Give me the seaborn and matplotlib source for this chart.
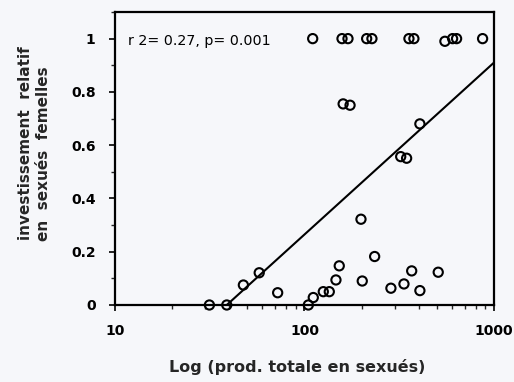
import numpy as np
import pandas as pd
import matplotlib
matplotlib.use("Agg")
import matplotlib.pyplot as plt
import matplotlib.ticker as mticker
import seaborn as sns

# Total sexual production (log axis) and relative investment in female sexuals
prod_totale = [110.5, 157.8, 169.7, 212.9, 227.0, 355.9, 378.0, 551.0, 605.0, 635.0, 871.0,
               160.0, 174.0,
               406.5,
               322.0, 346.0,
               198.7,
               31.5, 38.9, 47.6, 57.7, 72.2, 104.8, 111.3, 125.7, 135.2, 152.6, 146.6,
               201.8, 234.6, 285.9, 335.0, 368.0, 406.6, 508.0]
invest_femelles = [1.0, 1.0, 1.0, 1.0, 1.0, 1.0, 1.0, 0.99, 1.0, 1.0, 1.0,
                   0.755, 0.75,
                   0.68,
                   0.557, 0.551,
                   0.322,
                   0.0, 0.0, 0.075, 0.121, 0.046, 0.0, 0.028, 0.05, 0.05, 0.147, 0.094,
                   0.09, 0.182, 0.063, 0.079, 0.128, 0.054, 0.123]

# Fitted regression line endpoints
droite_x = [38.9, 1000.0]
droite_y = [0.0, 0.91]

stat_texte = "r 2= 0.27, p= 0.001"

df = pd.DataFrame({"prod": prod_totale, "invest": invest_femelles})
droite = pd.DataFrame({"prod": droite_x, "invest": droite_y})

sns.set_theme(style="ticks")
plt.rcParams["font.family"] = ["DejaVu Sans"]

fig = plt.figure(figsize=(5.14, 3.82), dpi=100)
fig.patch.set_facecolor("#f6f7fa")
ax = fig.add_axes([0.2237, 0.2016, 0.961 - 0.2237, 0.9686 - 0.2016])
ax.set_facecolor("#f6f7fa")

sns.lineplot(data=droite, x="prod", y="invest", ax=ax, color="black", linewidth=1.5)
sns.scatterplot(data=df, x="prod", y="invest", ax=ax, marker="o", s=44,
                facecolor="none", edgecolor="black", linewidth=1.5, clip_on=False,
                zorder=3)

ax.set_xscale("log")
ax.set_xlim(10, 1000)
ax.set_ylim(0, 1.1)

ax.xaxis.set_major_locator(mticker.FixedLocator([10, 100, 1000]))
ax.xaxis.set_major_formatter(mticker.FixedFormatter(["10", "100", "1000"]))
ax.xaxis.set_minor_locator(mticker.LogLocator(base=10, subs=np.arange(2, 10)))
ax.xaxis.set_minor_formatter(mticker.NullFormatter())

ax.yaxis.set_major_locator(mticker.FixedLocator([0, 0.2, 0.4, 0.6, 0.8, 1.0]))
ax.yaxis.set_major_formatter(mticker.FixedFormatter(["0", "0.2", "0.4", "0.6", "0.8", "1"]))
ax.yaxis.set_minor_locator(mticker.MultipleLocator(0.1))

ax.tick_params(axis="both", which="major", direction="out", length=4, width=1.2,
               labelsize=10, colors="black", pad=10)
ax.tick_params(axis="both", which="minor", direction="out", length=3, width=1.0)
for lab in ax.get_xticklabels() + ax.get_yticklabels():
    lab.set_fontweight("semibold")

for side in ["top", "right", "bottom", "left"]:
    ax.spines[side].set_visible(True)
    ax.spines[side].set_linewidth(1.6)
    ax.spines[side].set_color("black")

ax.set_xlabel("")
ax.set_ylabel("")

ax.text(0.035, 0.9, stat_texte, transform=ax.transAxes, fontsize=10.3,
        ha="left", va="center", color="black")

fig.text(0.578, 0.04, "Log (prod. totale en sexués)", ha="center", va="center",
         fontsize=11.5, fontweight="bold")
fig.text(0.049, 0.625, "investissement  relatif", ha="center", va="center",
         rotation=90, fontsize=11, fontweight="bold")
fig.text(0.084, 0.597, "en  sexués  femelles", ha="center", va="center",
         rotation=90, fontsize=11, fontweight="bold")

fig.savefig("out.png", dpi=100, facecolor=fig.get_facecolor())
